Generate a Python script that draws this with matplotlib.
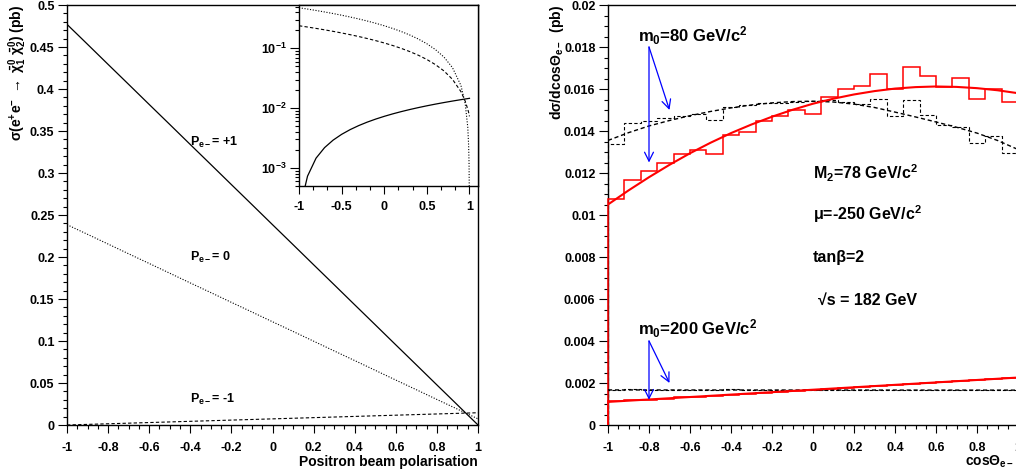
import numpy as np
import matplotlib
matplotlib.use('Agg')
import matplotlib.pyplot as plt
from matplotlib.ticker import MultipleLocator, FuncFormatter, FixedLocator, LogLocator, NullFormatter

plt.rcParams['font.family'] = ['Liberation Sans', 'DejaVu Sans']
plt.rcParams['font.weight'] = 'bold'
plt.rcParams['mathtext.fontset'] = 'custom'
plt.rcParams['mathtext.rm'] = 'Liberation Sans:bold'
plt.rcParams['mathtext.it'] = 'Liberation Sans:bold'
plt.rcParams['mathtext.bf'] = 'Liberation Sans:bold'

# ---- left panel: cross section vs positron polarisation
pol = [-1, -0.98, -0.95, -0.9, -0.8, -0.7, -0.6, -0.5, -0.4, -0.3, -0.2, -0.1, 0,
       0.1, 0.2, 0.3, 0.4, 0.5, 0.6, 0.7, 0.8, 0.9, 0.95, 0.98, 0.99, 0.995, 0.999, 1]
sig_pem_plus = [0.477, 0.4722, 0.4651, 0.4532, 0.4293, 0.4055, 0.3816, 0.3578, 0.3339,
                0.3101, 0.2862, 0.2624, 0.2385, 0.2147, 0.1908, 0.1670, 0.1431, 0.1193,
                0.0954, 0.0716, 0.0477, 0.0239, 0.0119, 0.0048, 0.0024, 0.0012, 0.00024, 0.0]
sig_pem_zero = [0.2385, 0.2362, 0.2327, 0.2270, 0.2154, 0.2038, 0.1923, 0.1807, 0.1691,
                0.1576, 0.1460, 0.1345, 0.1229, 0.1114, 0.0998, 0.0882, 0.0767, 0.0651,
                0.0535, 0.0420, 0.0304, 0.0189, 0.0131, 0.0096, 0.0085, 0.0079, 0.0074, 0.0073]
sig_pem_minus = [0.0, 0.000146, 0.000365, 0.00073, 0.00146, 0.00219, 0.00292, 0.00365,
                 0.00438, 0.00511, 0.00584, 0.00657, 0.0073, 0.00803, 0.00876, 0.00949,
                 0.01022, 0.01095, 0.01168, 0.01241, 0.01314, 0.01387, 0.01424, 0.01445,
                 0.01453, 0.01456, 0.01459, 0.0146]

# ---- right panel: angular distributions
n_bins = 25
edges = np.linspace(-1, 1, n_bins + 1)
h80_red = [0.01078, 0.01167, 0.01210, 0.01246, 0.01289, 0.01310, 0.01289, 0.01379, 0.01395,
           0.01448, 0.01471, 0.01500, 0.01479, 0.01563, 0.01602, 0.01614, 0.01670, 0.01598,
           0.01706, 0.01663, 0.01610, 0.01654, 0.01551, 0.01598, 0.01538]
h80_blk = [0.01337, 0.01440, 0.01448, 0.01460, 0.01471, 0.01483, 0.01452, 0.01514, 0.01522,
           0.01533, 0.01535, 0.01540, 0.01543, 0.01546, 0.01540, 0.01527, 0.01551, 0.01471,
           0.01546, 0.01475, 0.01429, 0.01419, 0.01341, 0.01376, 0.01294]
h200_red = [0.00112, 0.00117, 0.00121, 0.00126, 0.00131, 0.00134, 0.00140, 0.00145, 0.00149,
            0.00153, 0.00158, 0.00162, 0.00166, 0.00173, 0.00177, 0.00181, 0.00187, 0.00190,
            0.00196, 0.00200, 0.00205, 0.00209, 0.00214, 0.00218, 0.00223]
h200_blk = [0.00166, 0.00170, 0.00168, 0.00167, 0.00169, 0.00166, 0.00168, 0.00171, 0.00167,
            0.00165, 0.00167, 0.00168, 0.00166, 0.00167, 0.00165, 0.00166, 0.00168, 0.00166,
            0.00167, 0.00166, 0.00165, 0.00167, 0.00166, 0.00165, 0.00166]

cos_grid = [-1, -0.9, -0.8, -0.7, -0.6, -0.5, -0.4, -0.3, -0.2, -0.1, 0,
            0.1, 0.2, 0.3, 0.4, 0.5, 0.6, 0.7, 0.8, 0.9, 1]
f80_red = [0.01050, 0.01117, 0.01180, 0.01239, 0.01294, 0.01344, 0.01390, 0.01431, 0.01468,
           0.01501, 0.01530, 0.01554, 0.01574, 0.01590, 0.01602, 0.01609, 0.01612, 0.01610,
           0.01604, 0.01594, 0.01580]
f80_blk = [0.01355, 0.01392, 0.01424, 0.01450, 0.01473, 0.01493, 0.01510, 0.01524, 0.01534,
           0.01540, 0.01542, 0.01538, 0.01528, 0.01512, 0.01490, 0.01467, 0.01443, 0.01418,
           0.01390, 0.01355, 0.01312]
cos_ends = [-1, 1]
f200_red = [0.00110, 0.00226]
f200_blk = [0.00167, 0.00166]

W, H = 1016, 476
fig = plt.figure(figsize=(W / 100, H / 100), dpi=100)

def fmt(v, p):
    return f'{round(v, 6) + 0:g}'

def style(ax):
    ax.tick_params(which='both', direction='out', top=False, right=False, width=0.8, labelsize=9)
    ax.tick_params(axis='y', which='major', length=6.5, pad=2.5)
    ax.tick_params(axis='y', which='minor', length=3.2)
    ax.tick_params(axis='x', which='major', length=5.5, pad=7)
    ax.tick_params(axis='x', which='minor', length=3.2)
    for s in ax.spines.values():
        s.set_linewidth(1.0)
    ax.xaxis.set_major_formatter(FuncFormatter(fmt))
    ax.yaxis.set_major_formatter(FuncFormatter(fmt))

# left panel
ax1 = fig.add_axes([67 / W, 1 - 425 / H, 411 / W, 420 / H])
ax1.plot(pol, sig_pem_plus, color='black', lw=0.9)
ax1.plot(pol, sig_pem_zero, color='black', lw=0.8, ls=(0, (1, 1.5)))
ax1.plot(pol, sig_pem_minus, color='black', lw=0.8, ls=(0, (3, 2)))
ax1.set_xlim(-1, 1)
ax1.set_ylim(0, 0.5)
ax1.xaxis.set_major_locator(MultipleLocator(0.2))
ax1.xaxis.set_minor_locator(MultipleLocator(0.05))
ax1.yaxis.set_major_locator(MultipleLocator(0.05))
ax1.yaxis.set_minor_locator(MultipleLocator(0.01))
style(ax1)
ax1.text(-0.40, 0.336, 'P$_{e-}$= +1', fontsize=9, va='center')
ax1.text(-0.40, 0.200, 'P$_{e-}$= 0', fontsize=9, va='center')
ax1.text(-0.40, 0.030, 'P$_{e-}$= -1', fontsize=9, va='center')
ax1.text(1.0, -0.088, 'Positron beam polarisation', transform=ax1.transAxes,
         ha='right', va='center', fontsize=10)
ax1.text(-0.119, 1.0, r'$\sigma$(e$^{+}$e$^{-}$ $\rightarrow$ $\bar{\chi}^{0}_{1}$ $\bar{\chi}^{0}_{2}$) (pb)',
         transform=ax1.transAxes, rotation=90, ha='center', va='top', fontsize=10)

# inset (log scale)
axi = fig.add_axes([299 / W, 1 - 186 / H, 179 / W, 181 / H])
axi.plot(pol, sig_pem_plus, color='black', lw=0.8, ls=(0, (1, 1.5)))
axi.plot(pol, sig_pem_zero, color='black', lw=0.8, ls=(0, (3, 2)))
axi.plot(pol, sig_pem_minus, color='black', lw=0.9)
axi.set_yscale('log')
axi.set_xlim(-1, 1.1)
axi.set_ylim(5e-4, 0.53)
axi.xaxis.set_major_locator(FixedLocator([-1, -0.5, 0, 0.5, 1]))
axi.xaxis.set_minor_locator(MultipleLocator(0.5 / 3))
axi.yaxis.set_major_locator(FixedLocator([1e-3, 1e-2, 1e-1]))
axi.yaxis.set_minor_locator(LogLocator(base=10, subs=np.arange(2, 10)))
axi.yaxis.set_minor_formatter(NullFormatter())
style(axi)
axi.yaxis.set_major_formatter(FuncFormatter(lambda v, p: r'10$^{%d}$' % round(np.log10(v))))
axi.tick_params(axis='x', which='major', pad=5)

# right panel
ax2 = fig.add_axes([608 / W, 1 - 425 / H, 410 / W, 420 / H])
ax2.stairs(h80_blk, edges, baseline=0, color='black', lw=0.8, ls=(0, (3, 2)), clip_on=False, zorder=3)
ax2.stairs(h200_blk, edges, baseline=0, color='black', lw=0.8, ls=(0, (3, 2)), clip_on=False, zorder=3)
ax2.stairs(h80_red, edges, baseline=0, color='red', lw=1.1, clip_on=False, zorder=3)
ax2.stairs(h200_red, edges, baseline=0, color='red', lw=1.1, clip_on=False, zorder=3)
ax2.plot(cos_grid, f80_blk, color='black', lw=1.0, ls=(0, (3, 2)), zorder=4)
ax2.plot(cos_ends, f200_blk, color='black', lw=1.0, ls=(0, (3, 2)), zorder=4)
ax2.plot(cos_grid, f80_red, color='red', lw=1.5, zorder=4)
ax2.plot(cos_ends, f200_red, color='red', lw=1.5, zorder=4)
ax2.set_xlim(-1, 1)
ax2.set_ylim(0, 0.02)
ax2.xaxis.set_major_locator(MultipleLocator(0.2))
ax2.xaxis.set_minor_locator(MultipleLocator(0.05))
ax2.yaxis.set_major_locator(MultipleLocator(0.002))
ax2.yaxis.set_minor_locator(MultipleLocator(0.0005))
style(ax2)

arrow = dict(arrowstyle='->', color='blue', lw=0.9, mutation_scale=16, shrinkA=0, shrinkB=0)
ax2.annotate('', xy=(-0.8, 0.0125), xytext=(-0.8, 0.018), arrowprops=arrow, zorder=5)
ax2.annotate('', xy=(-0.7, 0.0150), xytext=(-0.8, 0.018), arrowprops=arrow, zorder=5)
ax2.annotate('', xy=(-0.8, 0.0012), xytext=(-0.8, 0.0040), arrowprops=arrow, zorder=5)
ax2.annotate('', xy=(-0.7, 0.0020), xytext=(-0.8, 0.0040), arrowprops=arrow, zorder=5)

ax2.text(-0.853, 0.01825, 'm$_0$=80 GeV/c$^2$', fontsize=12, va='baseline')
ax2.text(-0.853, 0.00429, 'm$_0$=200 GeV/c$^2$', fontsize=12, va='baseline')
ax2.text(0.0, 0.0117, 'M$_2$=78 GeV/c$^2$', fontsize=11.5, va='baseline')
ax2.text(0.0, 0.00976, '\u03bc=-250 GeV/c$^2$', fontsize=11.5, va='baseline')
ax2.text(0.0, 0.00778, 'tan\u03b2=2', fontsize=11.5, va='baseline')
ax2.text(0.023, 0.00571, '\u221as = 182 GeV', fontsize=11.5, va='baseline')

ax2.text(0.992, -0.088, 'cos\u0398$_{e-}$', transform=ax2.transAxes,
         ha='right', va='center', fontsize=10)
ax2.text(-0.124, 1.0, 'd\u03c3/dcos\u0398$_{e-}$  (pb)', transform=ax2.transAxes,
         rotation=90, ha='center', va='top', fontsize=10)

fig.savefig('out.png', dpi=100)
